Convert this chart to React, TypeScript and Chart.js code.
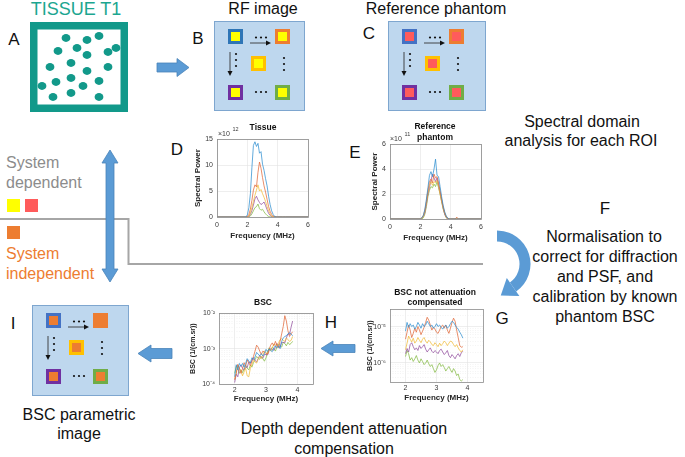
import React, { useEffect, useRef } from "react";
import { Chart, registerables } from "chart.js";
Chart.register(...registerables);

// ---------------- data ----------------
const specFreq = [0, 1, 1.9, 2.0, 2.1, 2.2, 2.3, 2.4, 2.5, 2.6, 2.7, 2.8, 2.9, 3.0, 3.1, 3.2, 3.3, 3.4, 3.5, 3.6, 3.7, 3.8, 3.9, 4.0, 4.3, 4.4, 4.5, 5, 6];

// Tissue spectral power (x10^12)
const tissueBlue = [0, 0, 0, 0.4, 1.8, 4.5, 9.5, 13.8, 14.5, 13.6, 14.2, 12.3, 12.6, 10.2, 9.0, 7.4, 6.0, 4.0, 2.4, 1.2, 0.5, 0.1, 0, 0, 0, 0, 0, 0, 0];
const tissueOrange = [0, 0, 0, 0.1, 0.5, 1.5, 3.2, 5.2, 6.2, 5.8, 8.6, 10.6, 9.4, 7.6, 6.0, 4.8, 3.4, 2.0, 1.1, 0.5, 0.2, 0.05, 0, 0, 0, 0, 0, 0, 0];
const tissueYellow = [0, 0, 0, 0, 0.2, 0.8, 1.8, 3.0, 4.2, 5.2, 6.2, 5.0, 5.3, 4.5, 3.8, 3.0, 2.0, 1.2, 0.6, 0.2, 0.05, 0, 0, 0, 0, 0, 0, 0, 0];
const tissuePurple = [0, 0, 0, 0, 0.1, 0.5, 1.2, 2.3, 3.5, 4.0, 3.3, 2.8, 2.4, 2.6, 2.9, 2.2, 1.4, 0.7, 0.3, 0.1, 0, 0, 0, 0, 0, 0, 0, 0, 0];
const tissueGreen = [0, 0, 0, 0, 0, 0.2, 0.6, 1.2, 1.8, 2.0, 2.5, 1.6, 1.3, 1.5, 1.0, 0.6, 0.3, 0.1, 0, 0, 0, 0, 0, 0, 0, 0, 0, 0, 0];

// Reference phantom spectral power (x10^11)
const phantomBlue = [0, 0, 0, 0, 0.1, 0.3, 0.8, 1.6, 2.5, 3.5, 3.8, 3.4, 4.0, 4.8, 3.5, 3.4, 2.6, 1.8, 1.1, 0.6, 0.25, 0.08, 0, 0, 0, 0, 0, 0, 0];
const phantomOrange = [0, 0, 0, 0, 0.1, 0.3, 0.7, 1.4, 2.3, 3.0, 3.2, 2.9, 3.6, 3.3, 3.4, 2.9, 2.3, 1.6, 1.0, 0.5, 0.2, 0.05, 0, 0, 0, 0.15, 0, 0, 0];
const phantomYellow = [0, 0, 0, 0, 0.05, 0.2, 0.6, 1.3, 2.1, 2.7, 3.0, 2.7, 3.0, 2.9, 3.1, 2.6, 2.0, 1.4, 0.9, 0.5, 0.2, 0.05, 0, 0, 0, 0.05, 0, 0, 0];
const phantomPurple = [0, 0, 0, 0, 0.05, 0.2, 0.5, 1.2, 2.0, 2.5, 3.1, 3.6, 3.3, 3.0, 3.3, 2.7, 2.1, 1.5, 0.9, 0.4, 0.15, 0, 0, 0, 0, 0, 0, 0, 0];
const phantomGreen = [0, 0, 0, 0, 0, 0.1, 0.4, 1.0, 1.8, 2.3, 2.6, 2.5, 2.8, 2.6, 3.0, 2.5, 2.0, 1.4, 0.8, 0.4, 0.1, 0, 0, 0, 0, 0, 0, 0, 0];

const bscFreq = [2.0, 2.05, 2.1, 2.15, 2.2, 2.25, 2.3, 2.35, 2.4, 2.45, 2.5, 2.55, 2.6, 2.65, 2.7, 2.75, 2.8, 2.85, 2.9, 2.95, 3.0, 3.05, 3.1, 3.15, 3.2, 3.25, 3.3, 3.35, 3.4, 3.45, 3.5, 3.55, 3.6, 3.65, 3.7, 3.75, 3.8, 3.85];

// BSC not attenuation compensated (1/(cm.sr))
const rawBlue = [7.5e-6, 1.3e-5, 9.5e-6, 1.2e-5, 1.0e-5, 1.1e-5, 8.5e-6, 1.0e-5, 1.3e-5, 1.1e-5, 9.0e-6, 1.2e-5, 1.0e-5, 1.1e-5, 1.4e-5, 1.2e-5, 1.0e-5, 1.1e-5, 9.0e-6, 1.0e-5, 1.2e-5, 1.0e-5, 1.1e-5, 9.5e-6, 8.5e-6, 1.0e-5, 1.1e-5, 9.0e-6, 1.0e-5, 1.2e-5, 1.4e-5, 1.3e-5, 1.1e-5, 9.5e-6, 8.5e-6, 7.0e-6, 6.0e-6, 4.8e-6];
const rawOrange = [4.5e-6, 7.0e-6, 1.1e-5, 8.0e-6, 5.0e-6, 6.5e-6, 9.0e-6, 7.0e-6, 1.0e-5, 8.0e-6, 6.0e-6, 7.5e-6, 9.5e-6, 1.3e-5, 1.8e-5, 1.5e-5, 1.1e-5, 8.0e-6, 9.5e-6, 8.5e-6, 7.0e-6, 6.5e-6, 8.0e-6, 1.0e-5, 1.1e-5, 9.0e-6, 1.1e-5, 8.0e-6, 6.5e-6, 9.0e-6, 1.3e-5, 1.7e-5, 1.4e-5, 8.0e-6, 5.0e-6, 3.0e-6, 2.7e-6, 2.8e-6];
const rawYellow = [2.3e-6, 3.5e-6, 5.5e-6, 4.5e-6, 3.8e-6, 4.8e-6, 3.5e-6, 4.0e-6, 5.0e-6, 4.2e-6, 3.6e-6, 4.5e-6, 5.0e-6, 4.0e-6, 3.5e-6, 4.2e-6, 3.8e-6, 3.2e-6, 3.0e-6, 3.6e-6, 3.2e-6, 2.8e-6, 3.5e-6, 3.0e-6, 3.4e-6, 4.0e-6, 3.6e-6, 3.0e-6, 3.5e-6, 4.0e-6, 3.8e-6, 3.2e-6, 2.8e-6, 3.2e-6, 2.6e-6, 2.2e-6, 2.0e-6, 2.3e-6];
const rawPurple = [1.8e-6, 2.5e-6, 2.0e-6, 3.2e-6, 3.6e-6, 2.8e-6, 2.3e-6, 2.6e-6, 2.2e-6, 3.0e-6, 2.5e-6, 2.8e-6, 3.2e-6, 2.4e-6, 2.0e-6, 2.3e-6, 2.6e-6, 2.1e-6, 1.9e-6, 2.2e-6, 2.0e-6, 1.8e-6, 2.2e-6, 2.4e-6, 2.0e-6, 1.7e-6, 1.9e-6, 2.2e-6, 1.6e-6, 1.4e-6, 1.7e-6, 1.5e-6, 1.3e-6, 1.6e-6, 1.8e-6, 1.5e-6, 1.9e-6, 2.1e-6];
const rawGreen = [1.5e-6, 2.2e-6, 1.8e-6, 1.2e-6, 1.4e-6, 1.1e-6, 1.3e-6, 1.6e-6, 1.2e-6, 1.0e-6, 1.3e-6, 1.1e-6, 9.0e-7, 1.0e-6, 1.2e-6, 9.5e-7, 8.0e-7, 9.0e-7, 7.0e-7, 5.5e-7, 6.5e-7, 8.5e-7, 1.0e-6, 8.0e-7, 9.0e-7, 7.5e-7, 6.0e-7, 7.0e-7, 8.0e-7, 6.5e-7, 5.5e-7, 7.0e-7, 6.0e-7, 4.5e-7, 5.0e-7, 3.5e-7, 3.2e-7, 3.5e-7];

// BSC after attenuation compensation (1/(cm.sr))
const bscBlue = [1.6e-4, 3.5e-4, 2.5e-4, 3.8e-4, 3.2e-4, 3.8e-4, 3.0e-4, 3.8e-4, 5.2e-4, 4.5e-4, 3.9e-4, 5.5e-4, 4.9e-4, 5.8e-4, 7.8e-4, 7.0e-4, 6.2e-4, 7.2e-4, 6.2e-4, 7.2e-4, 9.5e-4, 8.3e-4, 9.8e-4, 8.8e-4, 8.2e-4, 1.05e-3, 1.2e-3, 1.05e-3, 1.2e-3, 1.0e-3, 1.6e-3, 2.0e-3, 2.2e-3, 2.3e-3, 2.6e-3, 2.8e-3, 2.6e-3, 2.3e-3];
const bscOrange = [1.3e-4, 2.0e-4, 3.6e-4, 2.8e-4, 2.0e-4, 2.7e-4, 4.0e-4, 3.2e-4, 4.8e-4, 4.0e-4, 3.3e-4, 4.4e-4, 6.0e-4, 8.5e-4, 1.25e-3, 1.1e-3, 8.5e-4, 6.8e-4, 8.5e-4, 8.0e-4, 7.2e-4, 7.0e-4, 9.5e-4, 1.25e-3, 1.45e-3, 1.2e-3, 1.6e-3, 1.25e-3, 1.05e-3, 1.6e-3, 2.6e-3, 4.2e-3, 8.5e-3, 6.0e-3, 3.2e-3, 2.2e-3, 2.6e-3, 3.0e-3];
const bscYellow = [1.4e-4, 2.0e-4, 3.4e-4, 2.8e-4, 2.4e-4, 1.7e-4, 2.2e-4, 2.8e-4, 1.7e-4, 1.6e-4, 2.8e-4, 3.6e-4, 4.6e-4, 4.2e-4, 3.9e-4, 5.0e-4, 6.0e-4, 5.2e-4, 6.5e-4, 8.5e-4, 7.8e-4, 7.0e-4, 9.5e-4, 8.5e-4, 1.05e-3, 1.35e-3, 1.3e-3, 1.15e-3, 1.45e-3, 1.8e-3, 1.9e-3, 1.7e-3, 1.6e-3, 2.0e-3, 1.8e-3, 1.6e-3, 1.7e-3, 2.2e-3];
const bscPurple = [1.1e-4, 1.9e-4, 1.6e-4, 2.9e-4, 3.4e-4, 2.8e-4, 2.5e-4, 3.1e-4, 2.9e-4, 4.2e-4, 3.8e-4, 4.6e-4, 5.6e-4, 4.6e-4, 4.2e-4, 5.2e-4, 6.4e-4, 5.6e-4, 5.4e-4, 6.8e-4, 6.8e-4, 6.6e-4, 8.8e-4, 1.0e-3, 9.5e-4, 9.0e-4, 1.1e-3, 1.4e-3, 1.15e-3, 1.1e-3, 1.5e-3, 1.5e-3, 1.45e-3, 2.0e-3, 2.6e-3, 2.5e-3, 4.0e-3, 6.0e-3];
const bscGreen = [2.0e-4, 3.2e-4, 2.8e-4, 2.0e-4, 2.5e-4, 2.1e-4, 2.6e-4, 3.4e-4, 2.8e-4, 2.5e-4, 3.4e-4, 3.0e-4, 4.0e-4, 4.8e-4, 6.0e-4, 5.4e-4, 5.0e-4, 6.0e-4, 5.2e-4, 4.4e-4, 5.5e-4, 8.0e-4, 1.05e-3, 9.0e-4, 1.1e-3, 1.0e-3, 8.5e-4, 1.1e-3, 1.35e-3, 1.2e-3, 1.1e-3, 1.5e-3, 1.4e-3, 1.2e-3, 1.5e-3, 1.3e-3, 1.4e-3, 1.6e-3];

// ticks
const specXTicks = [0, 2, 4, 6];
const tissueYTicks = [0, 5, 10, 15];
const phantomYTicks = [0, 2, 4, 6];
const bscXTicks = [2, 3, 4];
const rawYGrid = [4e-7, 5e-7, 6e-7, 7e-7, 8e-7, 9e-7, 1e-6, 2e-6, 3e-6, 4e-6, 5e-6, 6e-6, 7e-6, 8e-6, 9e-6, 1e-5, 2e-5];
const rawYMajor = [1e-6, 1e-5];
const rawYMajorLabels = ["10⁻⁶", "10⁻⁵"];
const bscYGrid = [1e-4, 2e-4, 3e-4, 4e-4, 5e-4, 6e-4, 7e-4, 8e-4, 9e-4, 1e-3, 2e-3, 3e-3, 4e-3, 5e-3, 6e-3, 7e-3, 8e-3, 9e-3, 1e-2];
const bscYMajor = [1e-4, 1e-3, 1e-2];
const bscYMajorLabels = ["10⁻⁴", "10⁻³", "10⁻²"];

// ---------------- styles ----------------
const LINE_COLORS = ["#2f8fd0", "#e0683a", "#f0bb3a", "#93509f", "#86bb45"];
const FONT = '"Liberation Sans", Arial, Helvetica, sans-serif';
const TEAL = "#12998a";
const ARROW_FILL = "#5b9bd5";
const ARROW_EDGE = "#4a84b9";

const framePlugin = {
  id: "frame",
  afterDatasetsDraw(chart: any) {
    const { ctx, chartArea: a } = chart;
    ctx.save();
    ctx.strokeStyle = "#8c8c8c";
    ctx.lineWidth = 0.8;
    ctx.strokeRect(Math.round(a.left) + 0.5, Math.round(a.top) + 0.5, Math.round(a.right - a.left), Math.round(a.bottom - a.top));
    ctx.restore();
  },
};

type AxisSpec = {
  type: "linear" | "logarithmic";
  min: number;
  max: number;
  grid: number[];
  major?: number[];
  labels?: string[];
  title: string;
  titleSize: number;
  tickPad: number;
  titlePad: number;
};

type Spec = {
  canvas: [number, number, number, number];
  plot: [number, number, number, number];
  xs: number[];
  series: number[][];
  x: AxisSpec;
  y: AxisSpec;
};

function isSame(a: number, b: number, log: boolean) {
  if (log) return Math.abs(Math.log10(a) - Math.log10(b)) < 1e-6;
  return Math.abs(a - b) < 1e-9;
}

function axisOptions(ax: AxisSpec, isX: boolean, size: number) {
  const log = ax.type === "logarithmic";
  const majors = ax.major || ax.grid;
  return {
    type: ax.type,
    min: ax.min,
    max: ax.max,
    afterBuildTicks: (sc: any) => {
      sc.ticks = ax.grid.map((v) => ({ value: v, major: false }));
    },
    afterFit: (sc: any) => {
      if (isX) sc.height = size;
      else sc.width = size;
    },
    grid: {
      drawTicks: false,
      lineWidth: 0.6,
      color: (ctx: any) => {
        const v = ctx.tick ? ctx.tick.value : 0;
        return majors.some((m) => isSame(m, v, log)) ? "#e3e3e3" : "#ececec";
      },
    },
    border: {
      display: false,
      dash: (ctx: any) => {
        const v = ctx.tick ? ctx.tick.value : 0;
        return majors.some((m) => isSame(m, v, log)) ? [] : [1, 1.5];
      },
    },
    ticks: {
      autoSkip: false,
      maxRotation: 0,
      padding: ax.tickPad,
      color: "#3a3a3a",
      font: { family: FONT, size: 7 },
      callback: (value: any) => {
        const v = Number(value);
        const idx = majors.findIndex((m) => isSame(m, v, log));
        if (idx < 0) return "";
        if (ax.labels) return ax.labels[idx];
        return String(v);
      },
    },
    title: {
      display: true,
      text: ax.title,
      color: "#262626",
      font: { family: FONT, size: ax.titleSize, weight: "bold" },
      padding: isX ? { top: 0, bottom: ax.titlePad } : { top: ax.titlePad, bottom: 0 },
    },
  };
}

function MiniChart({ spec }: { spec: Spec }) {
  const ref = useRef<HTMLCanvasElement>(null);
  const [cl, ct, cw, ch] = spec.canvas;
  useEffect(() => {
    const [pl, pt, pr, pb] = spec.plot;
    const chart = new Chart(ref.current as HTMLCanvasElement, {
      type: "line",
      data: {
        datasets: spec.series.map((vals, i) => ({
          data: spec.xs.map((x, j) => ({ x, y: vals[j] })),
          borderColor: LINE_COLORS[i],
          borderWidth: 0.75,
          pointRadius: 0,
          fill: false,
          tension: 0,
        })),
      },
      options: {
        animation: false,
        responsive: false,
        devicePixelRatio: 1,
        events: [],
        layout: { padding: { left: 0, top: pt - ct, right: cl + cw - pr, bottom: 0 } },
        plugins: { legend: { display: false }, tooltip: { enabled: false }, title: { display: false } },
        scales: {
          x: axisOptions(spec.x, true, ct + ch - pb) as any,
          y: axisOptions(spec.y, false, pl - cl) as any,
        },
      },
      plugins: [framePlugin],
    });
    return () => chart.destroy();
  }, []);
  return <canvas ref={ref} width={cw} height={ch} style={{ position: "absolute", left: cl, top: ct, width: cw, height: ch }} />;
}

const tissueSpec: Spec = {
  canvas: [188, 131, 126, 112],
  plot: [217, 138, 309, 217],
  xs: specFreq,
  series: [tissueBlue, tissueOrange, tissueYellow, tissuePurple, tissueGreen],
  x: { type: "linear", min: 0, max: 6, grid: specXTicks, title: "Frequency (MHz)", titleSize: 8, tickPad: 4, titlePad: 2 },
  y: { type: "linear", min: 0, max: 15, grid: tissueYTicks, title: "Spectral Power", titleSize: 8, tickPad: 4, titlePad: 5 },
};

const phantomSpec: Spec = {
  canvas: [365, 136, 122, 109],
  plot: [390, 143, 482, 219],
  xs: specFreq,
  series: [phantomBlue, phantomOrange, phantomYellow, phantomPurple, phantomGreen],
  x: { type: "linear", min: 0, max: 6, grid: specXTicks, title: "Frequency (MHz)", titleSize: 8, tickPad: 4, titlePad: 2 },
  y: { type: "linear", min: 0, max: 6, grid: phantomYTicks, title: "Spectral Power", titleSize: 8, tickPad: 4, titlePad: 5 },
};

const rawSpec: Spec = {
  canvas: [362, 301, 126, 104],
  plot: [390, 308, 483, 382],
  xs: bscFreq,
  series: [rawBlue, rawOrange, rawYellow, rawPurple, rawGreen],
  x: { type: "linear", min: 1.5, max: 4.5, grid: bscXTicks, title: "Frequency (MHz)", titleSize: 8, tickPad: 2, titlePad: 2 },
  y: { type: "logarithmic", min: 3e-7, max: 3e-5, grid: rawYGrid, major: rawYMajor, labels: rawYMajorLabels, title: "BSC (1/(cm.sr))", titleSize: 7, tickPad: 4, titlePad: 4 },
};

const bscSpec: Spec = {
  canvas: [185, 305, 133, 101],
  plot: [219, 312, 313, 384],
  xs: bscFreq,
  series: [bscBlue, bscOrange, bscYellow, bscPurple, bscGreen],
  x: { type: "linear", min: 1.5, max: 4.5, grid: bscXTicks, title: "Frequency (MHz)", titleSize: 8, tickPad: 2, titlePad: 2 },
  y: { type: "logarithmic", min: 1e-4, max: 1e-2, grid: bscYGrid, major: bscYMajor, labels: bscYMajorLabels, title: "BSC (1/(cm.sr))", titleSize: 7, tickPad: 4, titlePad: 4 },
};

// ---------------- diagram helpers ----------------
function Txt(props: { x: number; y: number; size: number; color?: string; bold?: boolean; align?: "left" | "center"; children: any }) {
  const { x, y, size, color = "#111", bold = false, align = "center" } = props;
  return (
    <div
      style={{
        position: "absolute",
        left: x,
        top: y - 0.49 * size,
        fontFamily: FONT,
        fontSize: size,
        lineHeight: `${size}px`,
        fontWeight: bold ? "bold" : "normal",
        color,
        whiteSpace: "nowrap",
        transform: align === "center" ? "translateX(-50%)" : undefined,
      }}
    >
      {props.children}
    </div>
  );
}

const tissueDots = [
  [66, 38], [87, 40], [99, 36], [58, 51], [77, 48], [87, 55], [108, 52], [116, 48],
  [50, 67], [71, 63], [87, 71], [108, 67], [56, 82], [71, 78], [99, 81], [42, 86],
  [83, 86], [53, 97], [71, 93], [99, 97],
];

function Square({ x, y, fill, edge }: { x: number; y: number; fill: string; edge: string }) {
  return <rect x={x + 1.5} y={y + 1.5} width={12} height={12} fill={fill} stroke={edge} strokeWidth={3} />;
}

function SmallArrow({ x1, y1, x2, y2 }: { x1: number; y1: number; x2: number; y2: number }) {
  const horiz = y1 === y2;
  const head = horiz
    ? `${x2},${y2} ${x2 - 5},${y2 - 2.5} ${x2 - 5},${y2 + 2.5}`
    : `${x2},${y2} ${x2 - 2.5},${y2 - 5} ${x2 + 2.5},${y2 - 5}`;
  return (
    <g>
      <line x1={x1} y1={y1} x2={horiz ? x2 - 4 : x2} y2={horiz ? y2 : y2 - 4} stroke="#333" strokeWidth={0.9} />
      <polygon points={head} fill="#111" />
    </g>
  );
}

function Dots({ pts }: { pts: number[][] }) {
  return (
    <g>
      {pts.map((p, i) => (
        <circle key={i} cx={p[0]} cy={p[1]} r={1.1} fill="#111" />
      ))}
    </g>
  );
}

function RoiBox({ bx, by, w, h, fill, edges }: { bx: number; by: number; w: number; h: number; fill: string; edges: string[] }) {
  return (
    <g>
      <rect x={bx + 0.5} y={by + 0.5} width={w} height={h} fill="#bed7ee" stroke="#7ea6cf" strokeWidth={1} />
      <Square x={bx + 14} y={by + 8} fill={fill} edge={edges[0]} />
      <Square x={bx + 61} y={by + 8} fill={fill} edge={edges[1]} />
      <Square x={bx + 37} y={by + 35} fill={fill} edge={edges[2]} />
      <Square x={bx + 14} y={by + 64} fill={fill} edge={edges[3]} />
      <Square x={bx + 61} y={by + 64} fill={fill} edge={edges[4]} />
      <SmallArrow x1={bx + 36} y1={by + 22} x2={bx + 57} y2={by + 22} />
      <Dots pts={[[bx + 42, by + 16.5], [bx + 47, by + 16.5], [bx + 52, by + 16.5]]} />
      <SmallArrow x1={bx + 16} y1={by + 31} x2={bx + 16} y2={by + 55} />
      <Dots pts={[[bx + 22, by + 33], [bx + 22, by + 39], [bx + 22, by + 45]]} />
      <Dots pts={[[bx + 70, by + 37], [bx + 70, by + 43], [bx + 70, by + 49]]} />
      <Dots pts={[[bx + 42, by + 71], [bx + 47, by + 71], [bx + 52, by + 71]]} />
    </g>
  );
}

function Diagram() {
  // curved arrow geometry
  const cx = 497, cy = 264, r = 28;
  const a0 = -Math.PI / 2, a1 = (55 * Math.PI) / 180;
  const sx = cx + r * Math.cos(a0), sy = cy + r * Math.sin(a0);
  const ex = cx + r * Math.cos(a1), ey = cy + r * Math.sin(a1);
  const nx = Math.cos(a1), ny = Math.sin(a1);
  const tx = -Math.sin(a1), ty = Math.cos(a1);
  const headPts = `${ex + nx * 11},${ey + ny * 11} ${ex + tx * 15},${ey + ty * 15} ${ex - nx * 11},${ey - ny * 11}`;
  return (
    <svg width={685} height={457} style={{ position: "absolute", left: 0, top: 0 }}>
      {/* divider line */}
      <polyline points="0,219 128.5,219 128.5,264 483,264" fill="none" stroke="#a6a6a6" strokeWidth={2} />
      {/* tissue */}
      <rect x={33.75} y={25.75} width={90.5} height={82.5} fill="#fff" stroke={TEAL} strokeWidth={7.5} />
      {tissueDots.map((d, i) => (
        <ellipse key={i} cx={d[0]} cy={d[1]} rx={4.4} ry={3.9} fill={TEAL} />
      ))}
      {/* block arrows */}
      <polygon points="157,63 177,63 177,58.5 189,67.5 177,76.5 177,72 157,72" fill={ARROW_FILL} stroke={ARROW_EDGE} strokeWidth={0.8} />
      <polygon points="355,344.5 333,344.5 333,341 321,348.5 333,356 333,352.5 355,352.5" fill={ARROW_FILL} stroke={ARROW_EDGE} strokeWidth={0.8} />
      <polygon points="172,348.5 151,348.5 151,345 138,353.5 151,362 151,358.5 172,358.5" fill={ARROW_FILL} stroke={ARROW_EDGE} strokeWidth={0.8} />
      <polygon points="110,150 118,163 114,163 114,269 118,269 110,282 102,269 106,269 106,163 102,163" fill={ARROW_FILL} stroke={ARROW_EDGE} strokeWidth={0.8} />
      {/* curved arrow */}
      <path d={`M ${sx} ${sy} A ${r} ${r} 0 0 1 ${ex} ${ey}`} fill="none" stroke={ARROW_FILL} strokeWidth={11} />
      <polygon points={headPts} fill={ARROW_FILL} />
      {/* ROI boxes */}
      <RoiBox bx={214} by={21} w={90} h={89} fill="#ffff00" edges={["#2e75b6", "#ed7d31", "#ffc000", "#7030a0", "#70ad47"]} />
      <RoiBox bx={388} by={21} w={97} h={89} fill="#ff5b5b" edges={["#4472c4", "#ed7d31", "#ffc000", "#7030a0", "#70ad47"]} />
      <RoiBox bx={32} by={305} w={96} h={90} fill="#ed7d31" edges={["#4472c4", "#ed7d31", "#ffc000", "#7030a0", "#70ad47"]} />
      {/* legend squares */}
      <rect x={7} y={199} width={13} height={13} fill="#ffff00" />
      <rect x={25} y={199} width={13} height={13} fill="#ff5b5b" />
      <rect x={7} y={226} width={13} height={13} fill="#ed7d31" />
    </svg>
  );
}

export default function App() {
  return (
    <div style={{ position: "absolute", left: 0, top: 0, width: 685, height: 457, background: "#fff", overflow: "hidden" }}>
      <Diagram />
      <MiniChart spec={tissueSpec} />
      <MiniChart spec={phantomSpec} />
      <MiniChart spec={rawSpec} />
      <MiniChart spec={bscSpec} />

      <Txt x={76} y={9} size={18} color="#1ca690">TISSUE T1</Txt>
      <Txt x={14} y={39} size={17}>A</Txt>
      <Txt x={263} y={9} size={16}>RF image</Txt>
      <Txt x={198} y={38} size={17}>B</Txt>
      <Txt x={436} y={9} size={16}>Reference phantom</Txt>
      <Txt x={369} y={33} size={17}>C</Txt>
      <Txt x={177} y={149} size={17}>D</Txt>
      <Txt x={355} y={152} size={17}>E</Txt>
      <Txt x={582} y={122} size={16}>Spectral domain</Txt>
      <Txt x={581} y={141} size={16}>analysis for each ROI</Txt>
      <Txt x={605} y={208} size={17}>F</Txt>
      <Txt x={604} y={237} size={16}>Normalisation to</Txt>
      <Txt x={605} y={257} size={16}>correct for diffraction</Txt>
      <Txt x={605} y={277} size={16}>and PSF, and</Txt>
      <Txt x={605} y={297} size={16}>calibration by known</Txt>
      <Txt x={605} y={317} size={16}>phantom BSC</Txt>
      <Txt x={502} y={318} size={17}>G</Txt>
      <Txt x={331} y={322} size={17}>H</Txt>
      <Txt x={13} y={323} size={17}>I</Txt>
      <Txt x={79} y={415} size={16}>BSC parametric</Txt>
      <Txt x={79} y={434} size={16}>image</Txt>
      <Txt x={344} y={429} size={16}>Depth dependent attenuation</Txt>
      <Txt x={344} y={449} size={16}>compensation</Txt>

      <Txt x={6} y={163} size={16} color="#8c8c8c" align="left">System</Txt>
      <Txt x={6} y={183} size={16} color="#8c8c8c" align="left">dependent</Txt>
      <Txt x={6} y={254} size={16} color="#ed7d31" align="left">System</Txt>
      <Txt x={6} y={274} size={16} color="#ed7d31" align="left">independent</Txt>

      {/* chart titles and exponent annotations */}
      <Txt x={263} y={127} size={8.5} bold>Tissue</Txt>
      <Txt x={218} y={133} size={7} color="#3a3a3a" align="left">×10</Txt>
      <Txt x={232.5} y={129.5} size={5.5} color="#3a3a3a" align="left">12</Txt>
      <Txt x={435} y={126} size={8.5} bold>Reference</Txt>
      <Txt x={435} y={137} size={8.5} bold>phantom</Txt>
      <Txt x={390} y={138} size={7} color="#3a3a3a" align="left">×10</Txt>
      <Txt x={404.5} y={134.5} size={5.5} color="#3a3a3a" align="left">11</Txt>
      <Txt x={263} y={302} size={8.5} bold>BSC</Txt>
      <Txt x={435} y={292} size={8.5} bold>BSC not attenuation</Txt>
      <Txt x={435} y={302} size={8.5} bold>compensated</Txt>
    </div>
  );
}
